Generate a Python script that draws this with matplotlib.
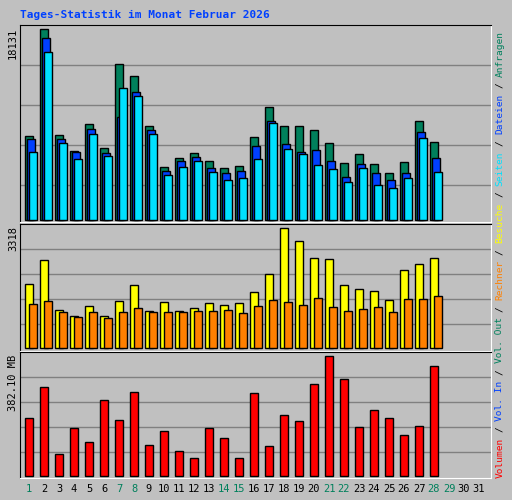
import matplotlib
matplotlib.use("Agg")
import matplotlib.pyplot as plt
import numpy as np

days = np.arange(1, 29)
anfragen = [7988, 18131, 8052, 6530, 9098, 6816, 14804, 13663, 8908, 5009, 5865, 6340, 5579, 4914,
            5104, 7862, 10715, 8908, 8908, 8527, 7291, 5389, 6245, 5294, 4438, 5484, 9383, 7386]
dateien = [7671, 17276, 7671, 6435, 8622, 6340, 9764, 12141, 8527, 4628, 5579, 5960, 4914, 4438,
           4628, 7006, 9383, 7196, 6435, 6625, 5579, 4058, 5294, 4438, 3772, 4438, 8337, 5865]
seiten = [6435, 15945, 7291, 5769, 8147, 6055, 12521, 11761, 8147, 4248, 5009, 5579, 4533, 3772,
          3962, 5769, 9193, 6720, 6245, 5199, 4818, 3582, 4914, 3297, 3011, 3962, 7767, 4533]
besuche = [1770, 2433, 1051, 885, 1161, 885, 1300, 1742, 1023, 1272, 1023, 1106, 1244, 1189,
           1244, 1548, 2046, 3318, 2959, 2489, 2461, 1742, 1631, 1576, 1327, 2157, 2323, 2489]
rechner = [1217, 1300, 995, 857, 995, 830, 995, 1106, 995, 995, 995, 1023, 1023, 1051,
           968, 1161, 1327, 1272, 1189, 1383, 1134, 1023, 1078, 1134, 995, 1355, 1355, 1438]
volumen = [183.6, 282.8, 68.3, 151.6, 106.7, 241.2, 177.2, 266.8, 97.1, 142.0, 77.9, 55.5, 151.6, 119.6,
           55.5, 263.6, 93.9, 193.2, 174.0, 292.5, 382.1, 308.5, 154.8, 209.2, 183.6, 129.2, 158.0, 350.1]
weekend = [1, 7, 8, 14, 15, 21, 22, 28, 29]

W, H = 512, 500
fig = plt.figure(figsize=(W / 100, H / 100), dpi=100)
fig.patch.set_facecolor("#c0c0c0")
mono = "DejaVu Sans Mono"

def px_axes(x0, y0, x1, y1):
    ax = fig.add_axes([x0 / W, 1 - y1 / H, (x1 - x0) / W, (y1 - y0) / H])
    ax.set_facecolor("#c0c0c0")
    ax.set_xlim(x0, x1)
    ax.set_xticks([])
    ax.set_yticks([])
    for s in ("top", "left"):
        ax.spines[s].set_color("black")
    for s in ("bottom", "right"):
        ax.spines[s].set_color("white")
    return ax

def setup_y(ax, y0, y1, base, top_px, vmax, grid_px):
    scale = vmax / (base - top_px)
    ax.set_ylim(-(y1 - base) * scale, (base - y0) * scale)
    for g in grid_px:
        ax.axhline((base - g) * scale, color="#808080", lw=1, zorder=0)

x1 = 25.3 + (days - 1) * 15  # left edge of first bar per day (pixel coords)
kw = dict(align="edge", edgecolor="black", linewidth=1)

# top panel
ax1 = px_axes(20, 25, 491, 222)
setup_y(ax1, 25, 222, 220, 29.3, 18131, [65, 105, 145, 185])
ax1.bar(x1, anfragen, 7.3, color="#00805c", **kw)
ax1.bar(x1 + 2, dateien, 7.3, color="#0040ff", **kw)
ax1.bar(x1 + 4, seiten, 7.3, color="#00e0ff", **kw)

# middle panel
ax2 = px_axes(20, 224, 491, 351)
setup_y(ax2, 224, 351, 348.3, 228.3, 3318, [249.3, 274.3, 299.3, 324.3])
ax2.bar(x1, besuche, 8, color="#ffff00", **kw)
ax2.bar(x1 + 3.3, rechner, 8, color="#ff8000", **kw)

# bottom panel
ax3 = px_axes(20, 352, 491, 478)
setup_y(ax3, 352, 478, 475.7, 356.3, 382.10, [377.3, 402.3, 427.3, 452.3])
ax3.bar(x1, volumen, 7.3, color="#ff0000", **kw)

# title and y labels
fig.text(20 / W, 1 - 15 / H, "Tages-Statistik im Monat Februar 2026", color="#0040ff",
         family=mono, weight="bold", fontsize=8, va="center")
for y, s in [(28, "18131"), (226, "3318"), (355, "382.10 MB")]:
    fig.text(13 / W, 1 - y / H, s, rotation=90, family=mono, fontsize=7.5, ha="center", va="top")

# day labels
for d in range(1, 32):
    fig.text((29 + (d - 1) * 15) / W, 1 - 489 / H, str(d), family=mono, fontsize=7.5,
             ha="center", va="center", color="#00805c" if d in weekend else "black")

# right legend, read bottom to top
pieces = [("Volumen", "#ff0000"), ("/", "black"), ("Vol. In", "#0040ff"), ("/", "black"),
          ("Vol. Out", "#00805c"), ("/", "black"), ("Rechner", "#ff8000"), ("/", "black"),
          ("Besuche", "#ffff00"), ("/", "black"), ("Seiten", "#00e0ff"), ("/", "black"),
          ("Dateien", "#0040ff"), ("/", "black"), ("Anfragen", "#00805c")]
pos = 478
for s, c in pieces:
    n = len(s) + (2 if s == "/" else 0)
    fig.text(500 / W, 1 - (pos - n * 5.73 / 2) / H, s, rotation=90, family=mono, fontsize=6.8,
             color=c, ha="center", va="center")
    pos -= n * 5.73

fig.savefig("out.png", dpi=100, facecolor=fig.get_facecolor())
